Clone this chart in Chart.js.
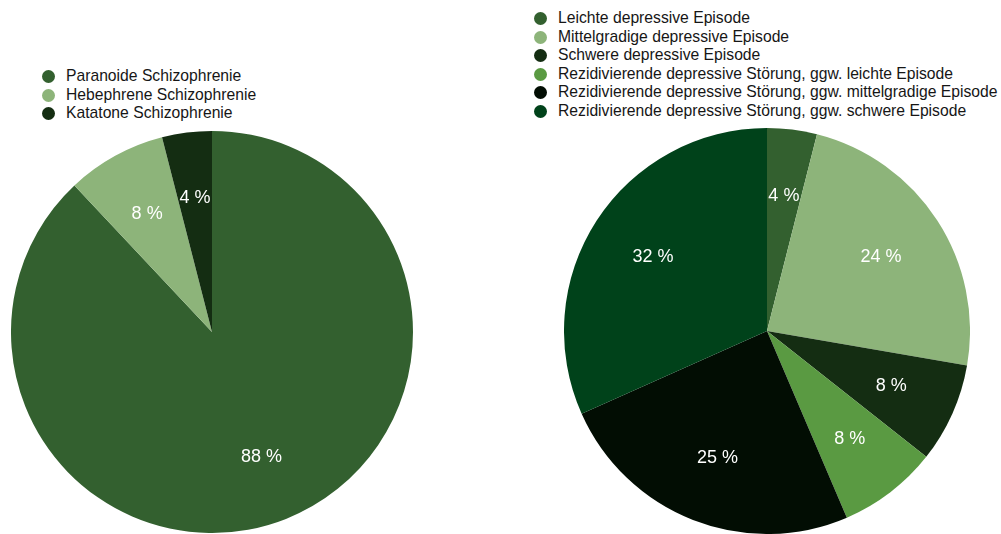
<!DOCTYPE html>
<html lang="de">
<head>
<meta charset="utf-8">
<title>Diagnosen</title>
<script src="https://cdn.jsdelivr.net/npm/chart.js@4.4.1/dist/chart.umd.min.js"></script>
<style>
  html, body { margin: 0; padding: 0; background: #ffffff; }
  body { width: 1001px; height: 534px; position: relative; overflow: hidden;
         font-family: "Liberation Sans", Arial, Helvetica, sans-serif; }
  .pie { position: absolute; }
  .legend { position: absolute; margin: 0; padding: 0; list-style: none;
            font-size: 15.7px; color: #161616; }
  .legend li { position: relative; height: 18.5px; line-height: 18.5px; padding-left: 24px; white-space: nowrap; }
  .legend li span { position: absolute; left: 0; top: 3px; width: 13px; height: 13px; border-radius: 50%; }
</style>
</head>
<body>
<ul class="legend" id="legendLeft" style="left:42px; top:67px;"></ul>
<div class="pie" style="left:11px; top:131px; width:402px; height:402px;"><canvas id="pieLeft"></canvas></div>

<ul class="legend" id="legendRight" style="left:534px; top:9px;"></ul>
<div class="pie" style="left:564px; top:128px; width:406px; height:406px;"><canvas id="pieRight"></canvas></div>

<script>
// Schizophrenie (F20)
var schizoLabels = ['Paranoide Schizophrenie', 'Hebephrene Schizophrenie', 'Katatone Schizophrenie'];
var schizoValues = [88, 8, 4];
var schizoColors = ['#33602f', '#8db47a', '#142d12'];

// Depressive Episoden / Störungen (F32/F33)
var depLabels = [
  'Leichte depressive Episode',
  'Mittelgradige depressive Episode',
  'Schwere depressive Episode',
  'Rezidivierende depressive Störung, ggw. leichte Episode',
  'Rezidivierende depressive Störung, ggw. mittelgradige Episode',
  'Rezidivierende depressive Störung, ggw. schwere Episode'
];
var depValues = [4, 24, 8, 8, 25, 32];
var depColors = ['#33602f', '#8db47a', '#142d12', '#5a9a42', '#020d03', '#00421a'];

// draws "NN %" inside every slice, about two thirds out from the centre
var sliceLabels = {
  id: 'sliceLabels',
  afterDatasetsDraw: function(chart) {
    var ctx = chart.ctx;
    var ds = chart.data.datasets[0];
    chart.getDatasetMeta(0).data.forEach(function(arc, i) {
      var p = arc.getProps(['x', 'y', 'startAngle', 'endAngle', 'outerRadius'], true);
      var mid = (p.startAngle + p.endAngle) / 2;
      var r = p.outerRadius * 0.67;
      ctx.save();
      ctx.fillStyle = '#ffffff';
      ctx.font = '18px "Liberation Sans", Arial, sans-serif';
      ctx.textAlign = 'center';
      ctx.textBaseline = 'middle';
      ctx.fillText(ds.data[i] + ' %', p.x + Math.cos(mid) * r, p.y + Math.sin(mid) * r);
      ctx.restore();
    });
  }
};

function buildLegend(id, labels, colors) {
  var ul = document.getElementById(id);
  labels.forEach(function(txt, i) {
    var li = document.createElement('li');
    var dot = document.createElement('span');
    dot.style.background = colors[i];
    li.appendChild(dot);
    li.appendChild(document.createTextNode(txt));
    ul.appendChild(li);
  });
}

function makePie(canvasId, labels, values, colors) {
  return new Chart(document.getElementById(canvasId), {
    type: 'pie',
    data: {
      labels: labels,
      datasets: [{ data: values, backgroundColor: colors, borderWidth: 0 }]
    },
    options: {
      responsive: true,
      maintainAspectRatio: false,
      animation: false,
      layout: { padding: 0 },
      plugins: { legend: { display: false }, tooltip: { enabled: false } }
    },
    plugins: [sliceLabels]
  });
}

buildLegend('legendLeft', schizoLabels, schizoColors);
buildLegend('legendRight', depLabels, depColors);
makePie('pieLeft', schizoLabels, schizoValues, schizoColors);
makePie('pieRight', depLabels, depValues, depColors);
</script>
</body>
</html>
